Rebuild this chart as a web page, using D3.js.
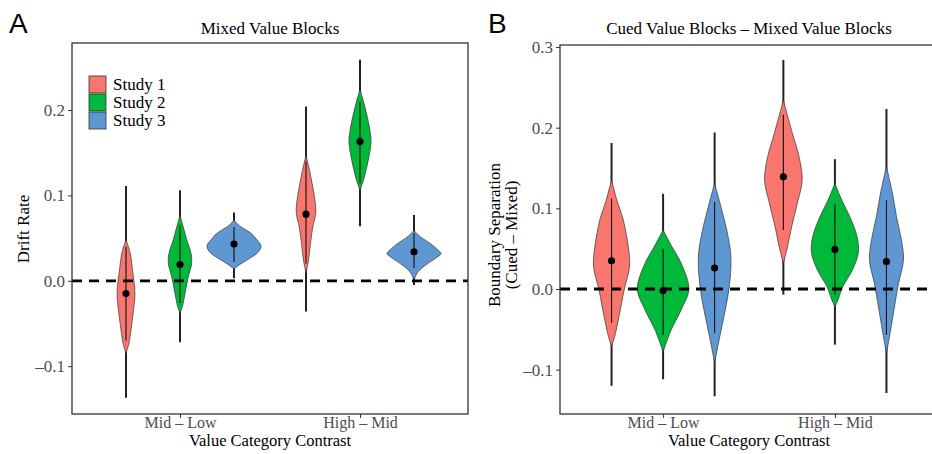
<!DOCTYPE html>
<html>
<head>
<meta charset="utf-8">
<script src="https://cdn.jsdelivr.net/npm/d3@7"></script>
<style>
body { margin: 0; background: #fff; }
text { font-family: "Liberation Serif", "Times New Roman", serif; }
</style>
</head>
<body>
<div id="chart"></div>
<script>
// categories
var contrasts = ["Mid \u2013 Low", "High \u2013 Mid"];
var studies = ["Study 1", "Study 2", "Study 3"];
var studyColors = ["#F8766D", "#00B83A", "#5F97D2"];

// Panel A - drift rate (mixed value blocks), indexed [contrast][study]
var driftMean = [[-0.015, 0.019, 0.043], [0.078, 0.163, 0.034]];
var driftOuter = [[[-0.137, 0.111], [-0.072, 0.106], [0.003, 0.080]],
                  [[-0.036, 0.204], [0.064, 0.259], [-0.005, 0.077]]];
var driftInner = [[[-0.070, 0.040], [-0.026, 0.065], [0.022, 0.063]],
                  [[0.020, 0.140], [0.114, 0.210], [0.015, 0.056]]];
// violin outlines: [value, relative density]
var driftProfile = [
  [
    [[0.048, 0], [0.033, 0.15], [0.013, 0.24], [-0.014, 0.33], [-0.034, 0.28], [-0.054, 0.20], [-0.073, 0.11], [-0.085, 0]],
    [[0.077, 0], [0.063, 0.12], [0.048, 0.25], [0.032, 0.41], [0.020, 0.43], [0.005, 0.31], [-0.015, 0.185], [-0.030, 0.09], [-0.038, 0]],
    [[0.071, 0], [0.063, 0.26], [0.056, 0.62], [0.048, 0.85], [0.041, 1.0], [0.034, 0.91], [0.027, 0.62], [0.020, 0.26], [0.014, 0]]
  ],
  [
    [[0.147, 0], [0.128, 0.14], [0.110, 0.25], [0.091, 0.345], [0.079, 0.36], [0.063, 0.25], [0.044, 0.167], [0.024, 0.093], [0.009, 0]],
    [[0.224, 0], [0.208, 0.148], [0.192, 0.27], [0.176, 0.37], [0.163, 0.41], [0.145, 0.33], [0.129, 0.22], [0.118, 0.13], [0.106, 0]],
    [[0.059, 0], [0.052, 0.22], [0.044, 0.59], [0.036, 0.89], [0.032, 1.0], [0.026, 0.78], [0.018, 0.41], [0.0105, 0.15], [0.001, 0]]
  ]
];
var driftTicks = [-0.1, 0.0, 0.1, 0.2];

// Panel B - boundary separation (cued - mixed), indexed [contrast][study]
var boundMean = [[0.035, -0.002, 0.026], [0.139, 0.049, 0.034]];
var boundOuter = [[[-0.120, 0.181], [-0.112, 0.118], [-0.133, 0.194]],
                  [[-0.007, 0.284], [-0.069, 0.161], [-0.129, 0.223]]];
var boundInner = [[[-0.042, 0.112], [-0.057, 0.050], [-0.055, 0.108]],
                  [[0.073, 0.216], [-0.007, 0.105], [-0.057, 0.110]]];
var boundProfile = [
  [
    [[0.135, 0], [0.110, 0.21], [0.0855, 0.455], [0.052, 0.65], [0.028, 0.70], [-0.001, 0.49], [-0.034, 0.29], [-0.059, 0.12], [-0.0715, 0]],
    [[0.073, 0], [0.052, 0.35], [0.032, 0.70], [0.000, 1.0], [-0.026, 0.70], [-0.051, 0.31], [-0.067, 0.12], [-0.078, 0]],
    [[0.131, 0], [0.094, 0.31], [0.073, 0.47], [0.045, 0.62], [0.020, 0.62], [-0.0095, 0.51], [-0.042, 0.31], [-0.0715, 0.12], [-0.092, 0]]
  ],
  [
    [[0.234, 0], [0.193, 0.35], [0.164, 0.61], [0.135, 0.73], [0.106, 0.54], [0.077, 0.32], [0.052, 0.16], [0.032, 0]],
    [[0.131, 0], [0.110, 0.27], [0.0896, 0.58], [0.065, 0.86], [0.045, 0.91], [0.0235, 0.68], [0.003, 0.31], [-0.0136, 0.12], [-0.022, 0]],
    [[0.152, 0], [0.119, 0.23], [0.0896, 0.39], [0.061, 0.58], [0.036, 0.66], [0.007, 0.47], [-0.026, 0.29], [-0.055, 0.14], [-0.080, 0]]
  ]
];
var boundTicks = [-0.1, 0.0, 0.1, 0.2, 0.3];

var width = 932,
    height = 454;

var svg = d3.select("#chart")
    .append("svg")
    .attr("width", width)
    .attr("height", height);

// tick labels with an en dash for negatives, as in the figure
var fmt = function (d) { return d3.format(".1f")(d).replace("\u2212", "\u2013"); };

function drawPanel(p) {
    var x = d3.scaleLinear().domain([0.4, 2.6]).range([p.left, p.right]);
    var y = d3.scaleLinear().domain(p.yDomain).range([p.bottom, p.top]);
    var g = svg.append("g");

    // clip so nothing leaks out of the panel
    var clipId = "clip-" + p.letter;
    svg.append("clipPath").attr("id", clipId)
        .append("rect")
        .attr("x", p.left).attr("y", p.top)
        .attr("width", p.right - p.left).attr("height", p.bottom - p.top);
    var plot = g.append("g").attr("clip-path", "url(#" + clipId + ")");

    var items = [];
    contrasts.forEach(function (c, ci) {
        studies.forEach(function (s, si) {
            items.push({
                pos: ci + 1 + (si - 1) * 0.3,
                study: si,
                mean: p.mean[ci][si],
                outer: p.outer[ci][si],
                inner: p.inner[ci][si],
                profile: p.profile[ci][si]
            });
        });
    });

    // wide interval, behind the violins
    plot.selectAll(".outer")
        .data(items).enter()
        .append("line")
        .attr("x1", d => x(d.pos)).attr("x2", d => x(d.pos))
        .attr("y1", d => y(d.outer[0])).attr("y2", d => y(d.outer[1]))
        .style("stroke", "#222").style("stroke-width", 2);

    // violins
    plot.selectAll(".violin")
        .data(items).enter()
        .append("path")
        .attr("d", function (d) {
            var area = d3.area()
                .y(e => y(e[0]))
                .x0(e => x(d.pos - e[1] * 0.15))
                .x1(e => x(d.pos + e[1] * 0.15))
                .curve(d3.curveCatmullRom);
            return area(d.profile);
        })
        .style("fill", d => studyColors[d.study])
        .style("stroke", "#333")
        .style("stroke-width", 0.7);

    // zero reference
    plot.append("line")
        .attr("x1", p.left).attr("x2", p.right)
        .attr("y1", y(0)).attr("y2", y(0))
        .style("stroke", "#000")
        .style("stroke-width", 2.8)
        .style("stroke-dasharray", "10,7");

    // narrow interval
    plot.selectAll(".inner")
        .data(items).enter()
        .append("line")
        .attr("x1", d => x(d.pos)).attr("x2", d => x(d.pos))
        .attr("y1", d => y(d.inner[0])).attr("y2", d => y(d.inner[1]))
        .style("stroke", "#111").style("stroke-width", 1.1);

    plot.selectAll(".pt")
        .data(items).enter()
        .append("circle")
        .attr("cx", d => x(d.pos)).attr("cy", d => y(d.mean))
        .attr("r", 3.6)
        .style("fill", "#000");

    // panel border
    g.append("rect")
        .attr("x", p.left).attr("y", p.top)
        .attr("width", p.right - p.left).attr("height", p.bottom - p.top)
        .style("fill", "none").style("stroke", "#333").style("stroke-width", 1.3);

    // y axis
    var yAxis = g.append("g")
        .attr("transform", "translate(" + p.left + ",0)")
        .call(d3.axisLeft(y).tickValues(p.ticks).tickFormat(fmt).tickSize(4).tickPadding(3));
    yAxis.select(".domain").remove();
    yAxis.selectAll("line").style("stroke", "#333");
    yAxis.selectAll("text")
        .style("font-family", "Liberation Serif")
        .style("font-size", "17px")
        .style("fill", "#4d4d4d");

    // x axis
    var xAxis = g.append("g")
        .attr("transform", "translate(0," + p.bottom + ")")
        .call(d3.axisBottom(x).tickValues([1, 2]).tickFormat((d, i) => contrasts[i]).tickSize(4).tickPadding(-1));
    xAxis.select(".domain").remove();
    xAxis.selectAll("line").style("stroke", "#333");
    xAxis.selectAll("text")
        .style("font-family", "Liberation Serif")
        .style("font-size", "16px")
        .style("fill", "#4d4d4d");

    g.append("text")
        .attr("x", (p.left + p.right) / 2)
        .attr("y", 446)
        .attr("text-anchor", "middle")
        .style("font-size", "16.5px")
        .text("Value Category Contrast");

    // title
    g.append("text")
        .attr("x", (p.left + p.right) / 2)
        .attr("y", 34)
        .attr("text-anchor", "middle")
        .style("font-size", "17px")
        .text(p.title);

    // y title
    var yt = g.append("text")
        .attr("transform", "translate(" + p.yTitleX + "," + p.yTitleY + ") rotate(-90)")
        .attr("text-anchor", "middle")
        .style("font-size", "17px");
    p.yTitle.forEach(function (line, i) {
        yt.append("tspan")
            .attr("x", 0)
            .attr("dy", i === 0 ? 0 : 17)
            .text(line);
    });

    // panel letter
    svg.append("text")
        .attr("x", p.letterX)
        .attr("y", 33)
        .style("font-family", "Liberation Sans")
        .style("font-size", "28px")
        .text(p.letter);

    return { x: x, y: y };
}

drawPanel({
    letter: "A", letterX: 9,
    left: 72, right: 468, top: 43, bottom: 414,
    yDomain: [-0.156, 0.2785],
    ticks: driftTicks,
    mean: driftMean, outer: driftOuter, inner: driftInner, profile: driftProfile,
    title: "Mixed Value Blocks",
    yTitle: ["Drift Rate"], yTitleX: 29, yTitleY: 229
});

drawPanel({
    letter: "B", letterX: 488,
    left: 560, right: 938, top: 45, bottom: 414,
    yDomain: [-0.155, 0.3025],
    ticks: boundTicks,
    mean: boundMean, outer: boundOuter, inner: boundInner, profile: boundProfile,
    title: "Cued Value Blocks \u2013 Mixed Value Blocks",
    yTitle: ["Boundary Separation", "(Cued \u2013 Mixed)"], yTitleX: 500, yTitleY: 235
});

// legend (panel A, top left)
var legend = svg.append("g").attr("transform", "translate(89,76)");
studies.forEach(function (s, i) {
    legend.append("rect")
        .attr("x", 0).attr("y", i * 18)
        .attr("width", 17).attr("height", 17)
        .style("fill", studyColors[i])
        .style("stroke", "#333").style("stroke-width", 0.8);
    legend.append("text")
        .attr("x", 24).attr("y", i * 18 + 14)
        .style("font-size", "17px")
        .text(s);
});
</script>
</body>
</html>
